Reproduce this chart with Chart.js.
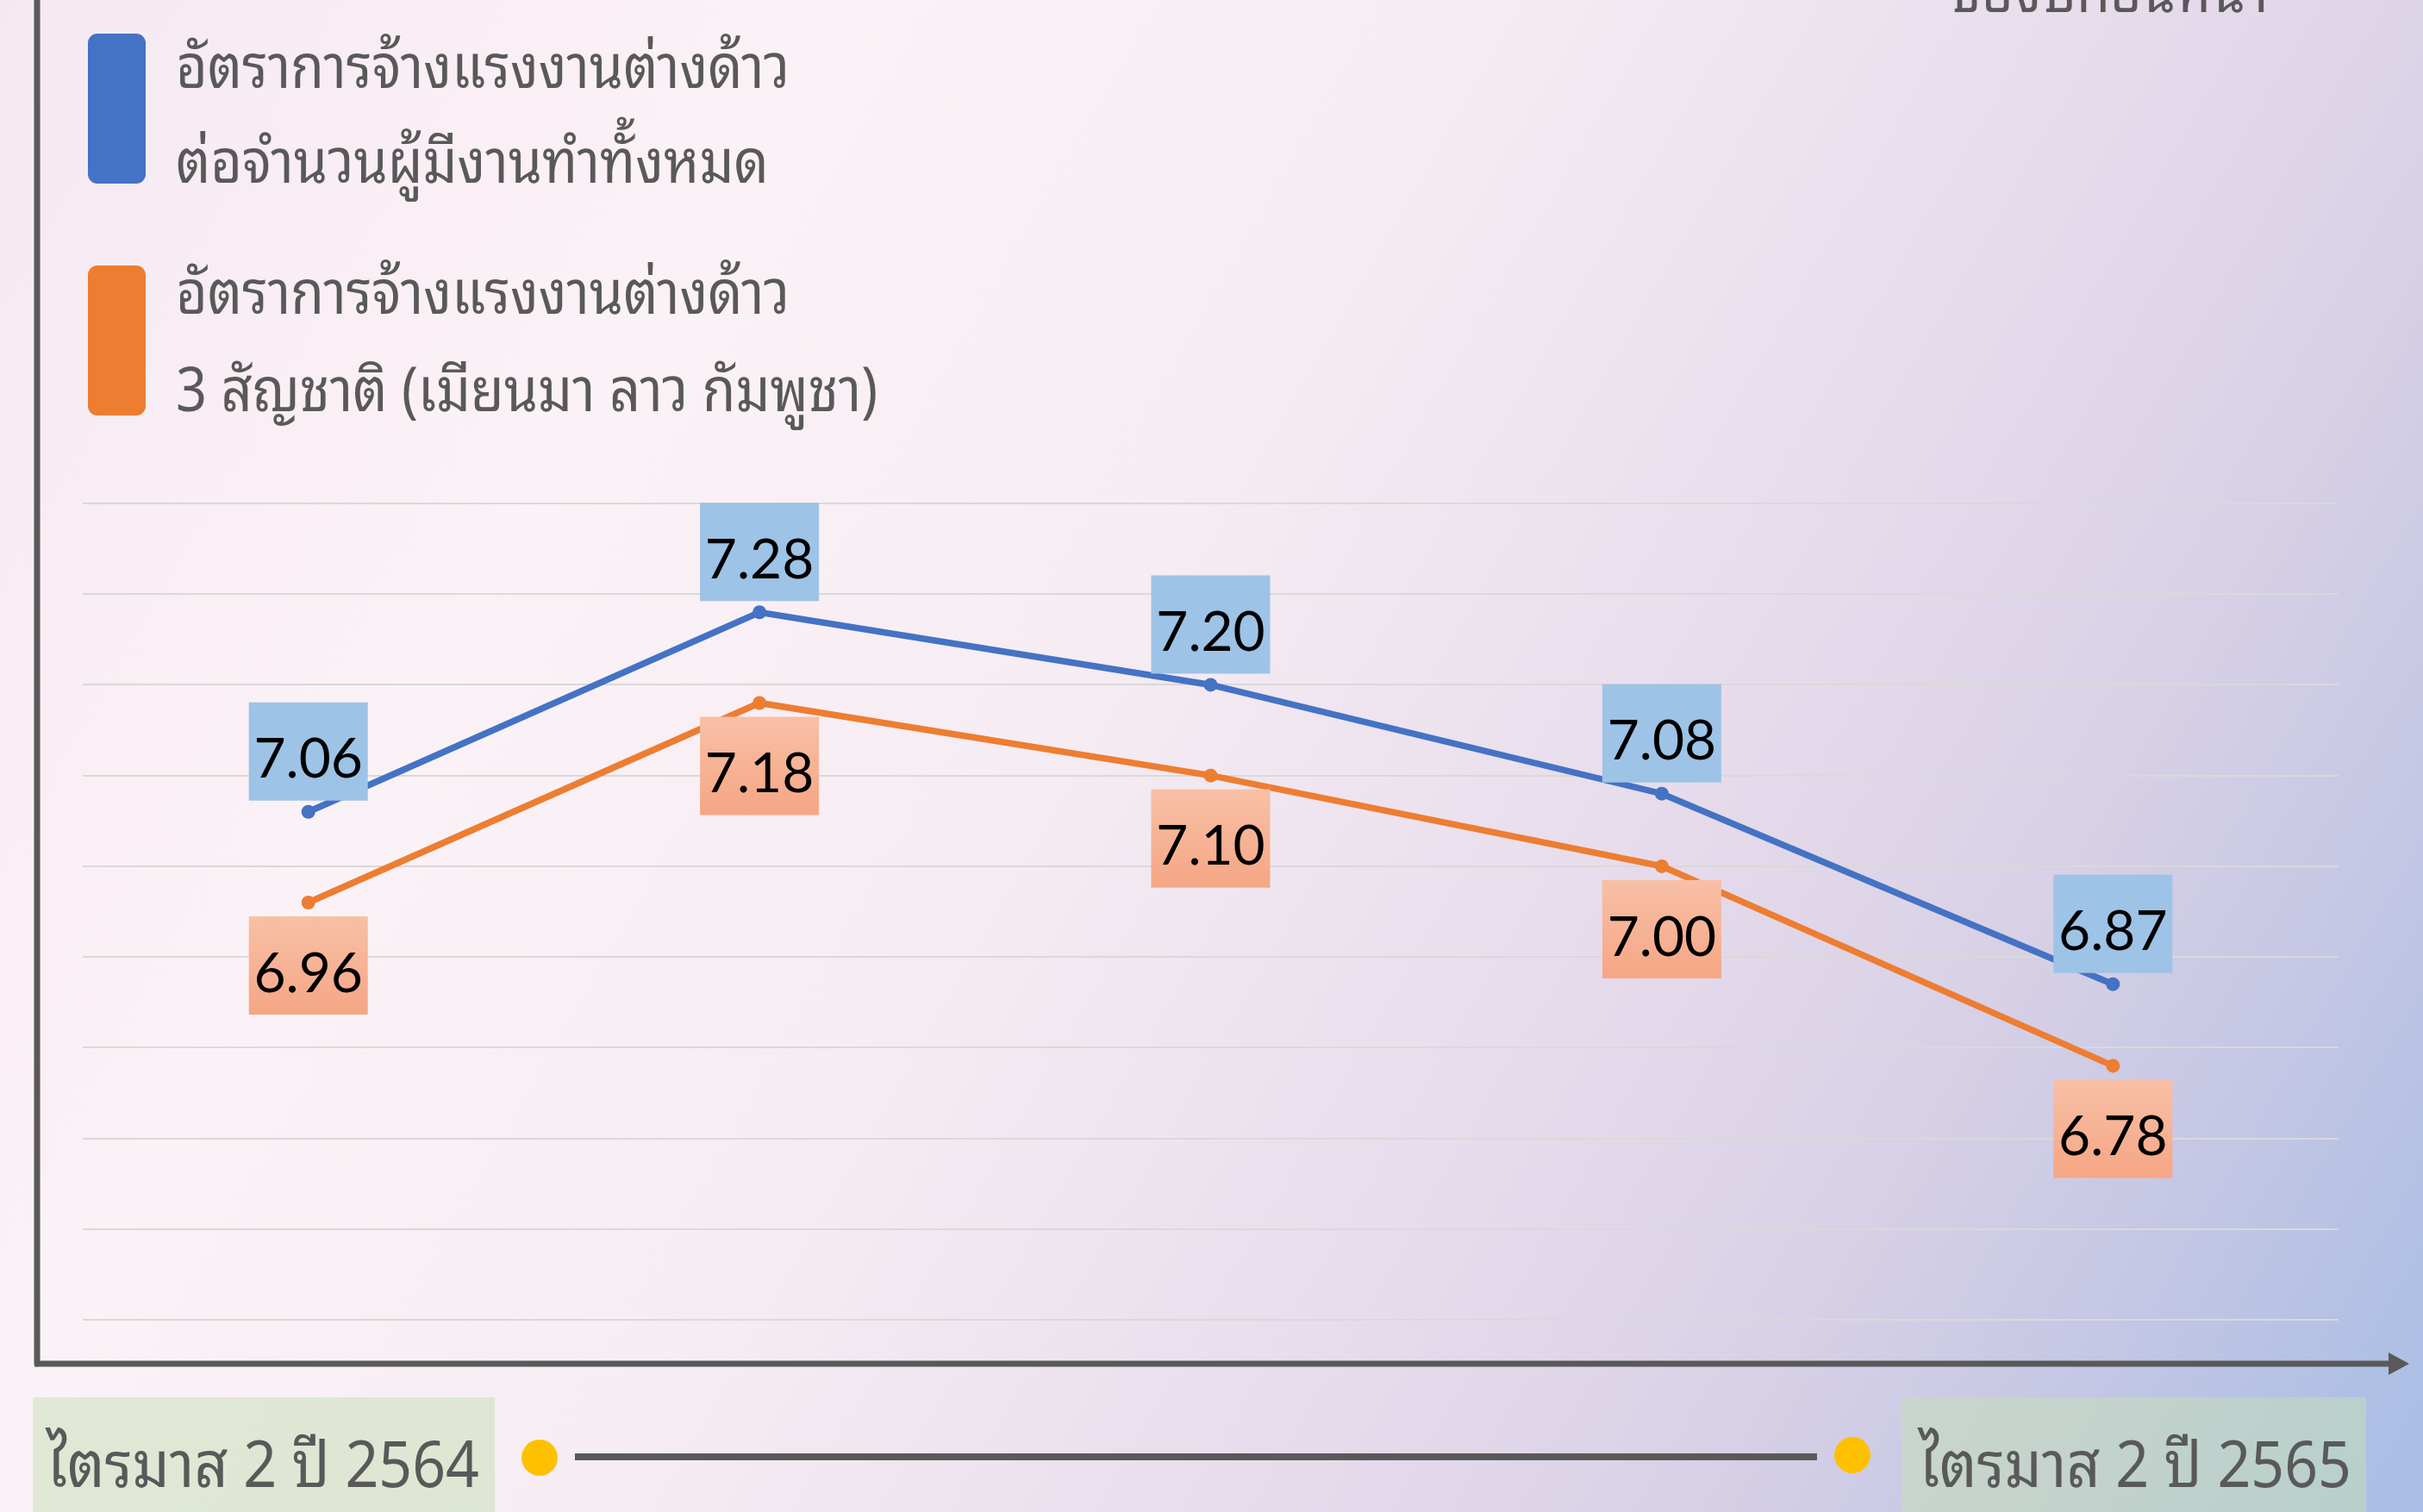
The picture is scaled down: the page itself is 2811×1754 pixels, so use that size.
<!DOCTYPE html>
<html><head><meta charset="utf-8">
<script src="https://cdn.jsdelivr.net/npm/chart.js@4.4.1/dist/chart.umd.min.js"></script>
<style>
html,body{margin:0;padding:0;width:2811px;height:1754px;overflow:hidden;}
body{background:linear-gradient(120deg,#F5E9F1 0%,#FBF2F7 25%,#F6ECF3 45%,#E4D9EA 68%,#D7D0E6 78%,#C3C6E4 88%,#AFC0E4 96%,#A9BEE6 100%);}
canvas{display:block;}
</style></head>
<body><canvas id="c" width="2811" height="1754"></canvas>
<script>
const categories = ['ไตรมาส 2 ปี 2564','ไตรมาส 3 ปี 2564','ไตรมาส 4 ปี 2564','ไตรมาส 1 ปี 2565','ไตรมาส 2 ปี 2565'];
const totalRate = [7.06, 7.28, 7.20, 7.08, 6.87];
const threeNationRate = [6.96, 7.18, 7.10, 7.00, 6.78];
const yMin = 6.5, yMax = 7.4, yStep = 0.1;
const legendTotal = ['อัตราการจ้างแรงงานต่างด้าว','ต่อจำนวนผู้มีงานทำทั้งหมด'];
const legendThree = ['อัตราการจ้างแรงงานต่างด้าว','3 สัญชาติ (เมียนมา ลาว กัมพูชา)'];
const periodStart = 'ไตรมาส 2 ปี 2564';
const periodEnd = 'ไตรมาส 2 ปี 2565';
const cornerNote = 'ของปีก่อนหน้า';

const THAI = '"Noto Sans Thai Looped","Noto Sans Thai","Noto Sans Thai UI","Loma","Garuda","Noto Sans",sans-serif';
const NUM = 'Lato,"Open Sans",sans-serif';
const GREY = '#595959';

function tallText(ctx, txt, x, y, sy) {
  ctx.save();
  ctx.translate(x, y);
  ctx.scale(1, sy);
  ctx.fillText(txt, 0, 0);
  ctx.restore();
}

const deco = {
  id: 'deco',
  afterDatasetsDraw(chart) {
    const ctx = chart.ctx;
    const W = 138, H = 114;
    ctx.save();
    ctx.font = '64px ' + NUM;
    ctx.textAlign = 'center';
    ctx.textBaseline = 'middle';
    chart.getDatasetMeta(0).data.forEach((p, j) => {
      const x0 = p.x - W / 2, y0 = p.y - 13 - H;
      ctx.fillStyle = '#9DC3E6';
      ctx.fillRect(x0, y0, W, H);
      ctx.fillStyle = '#000';
      ctx.fillText(totalRate[j].toFixed(2), p.x, y0 + H / 2 + 10);
    });
    chart.getDatasetMeta(1).data.forEach((p, j) => {
      const x0 = p.x - W / 2, y0 = p.y + 16;
      const g = ctx.createLinearGradient(0, y0, 0, y0 + H);
      g.addColorStop(0, '#F8C0A6'); g.addColorStop(1, '#F5A684');
      ctx.fillStyle = g;
      ctx.fillRect(x0, y0, W, H);
      ctx.fillStyle = '#000';
      ctx.fillText(threeNationRate[j].toFixed(2), p.x, y0 + H / 2 + 10);
    });
    ctx.restore();
  },
  afterDraw(chart) {
    const ctx = chart.ctx;
    ctx.save();
    // axes
    ctx.strokeStyle = GREY; ctx.fillStyle = GREY;
    ctx.lineWidth = 7; ctx.lineCap = 'round';
    ctx.beginPath(); ctx.moveTo(43, -10); ctx.lineTo(43, 1582); ctx.stroke();
    ctx.lineCap = 'butt';
    ctx.beginPath(); ctx.moveTo(40, 1582); ctx.lineTo(2774, 1582); ctx.stroke();
    ctx.beginPath(); ctx.moveTo(2771, 1569); ctx.lineTo(2795, 1582); ctx.lineTo(2771, 1595); ctx.closePath(); ctx.fill();
    // legend
    const rr = (x, y, w, h, r, c) => { ctx.fillStyle = c; ctx.beginPath(); ctx.roundRect(x, y, w, h, r); ctx.fill(); };
    rr(102, 39, 67, 174, 11, '#4472C4');
    rr(102, 308, 67, 174, 11, '#ED7D31');
    ctx.fillStyle = GREY;
    ctx.font = '63px ' + THAI;
    ctx.textAlign = 'left'; ctx.textBaseline = 'alphabetic';
    tallText(ctx, legendTotal[0], 204, 102, 1.12);
    tallText(ctx, legendTotal[1], 204, 212, 1.12);
    tallText(ctx, legendThree[0], 204, 364, 1.12);
    tallText(ctx, legendThree[1], 204, 477, 1.12);
    tallText(ctx, cornerNote, 2264, 14, 1.12);
    // timeline
    ctx.fillStyle = 'rgba(197,224,180,0.5)';
    ctx.fillRect(38, 1621, 536, 140);
    ctx.fillRect(2206, 1621, 539, 140);
    ctx.fillStyle = GREY;
    ctx.font = '68px ' + THAI;
    tallText(ctx, periodStart, 54, 1725, 1.1);
    tallText(ctx, periodEnd, 2226, 1725, 1.1);
    ctx.strokeStyle = GREY; ctx.lineWidth = 8;
    ctx.beginPath(); ctx.moveTo(667, 1690); ctx.lineTo(2108, 1690); ctx.stroke();
    ctx.fillStyle = '#FFC000';
    ctx.beginPath(); ctx.arc(626, 1691, 21, 0, Math.PI * 2); ctx.fill();
    ctx.beginPath(); ctx.arc(2149, 1688, 21, 0, Math.PI * 2); ctx.fill();
    ctx.restore();
  }
};

new Chart(document.getElementById('c'), {
  type: 'line',
  data: {
    labels: categories,
    datasets: [
      { label: legendTotal.join(' '), data: totalRate, borderColor: '#4472C4', backgroundColor: '#4472C4',
        borderWidth: 7.5, pointRadius: 8, pointBorderWidth: 0, tension: 0 },
      { label: legendThree.join(' '), data: threeNationRate, borderColor: '#ED7D31', backgroundColor: '#ED7D31',
        borderWidth: 7.5, pointRadius: 8, pointBorderWidth: 0, tension: 0 }
    ]
  },
  options: {
    responsive: false, animation: false, devicePixelRatio: 1,
    layout: { padding: { left: 96, right: 98, top: 584, bottom: 223 } },
    plugins: { legend: { display: false }, tooltip: { enabled: false } },
    scales: {
      x: { display: false, offset: true },
      y: { min: yMin, max: yMax, afterFit: s => { s.width = 0; },
        ticks: { display: false, stepSize: yStep },
        grid: { color: '#D9D9D9', lineWidth: 2, drawTicks: false },
        border: { display: false } }
    }
  },
  plugins: [deco]
});
</script>
</body></html>
